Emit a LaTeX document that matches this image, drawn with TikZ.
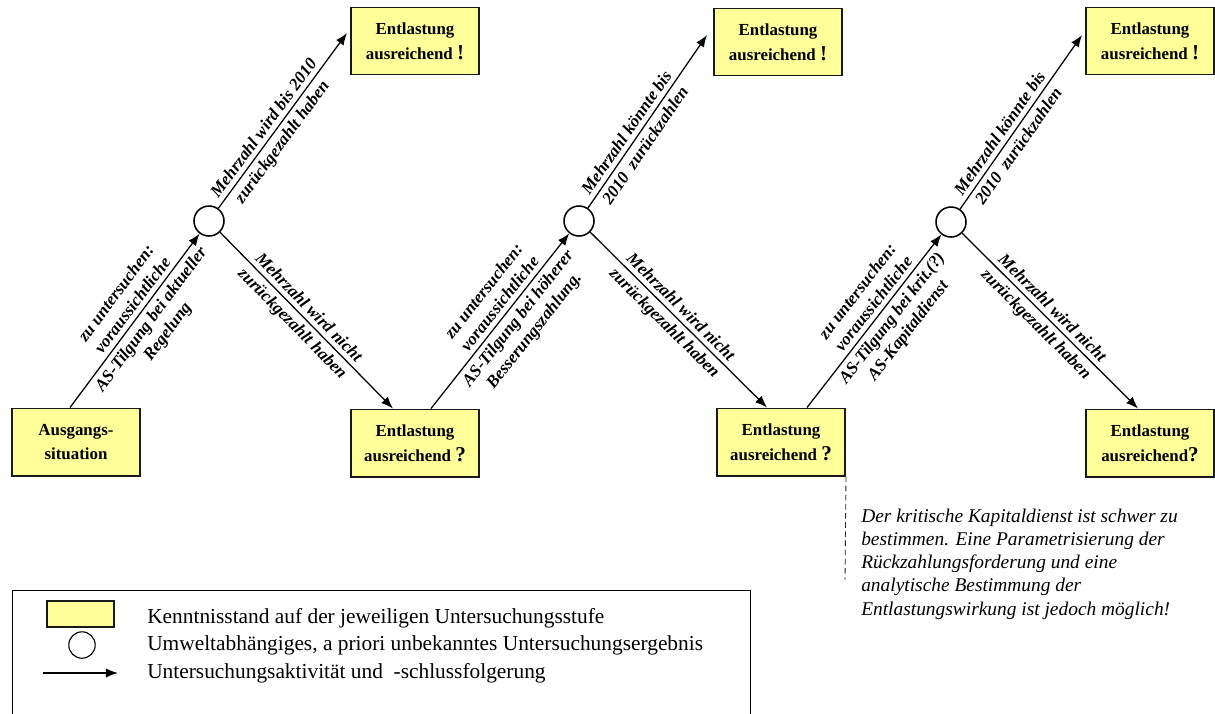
\documentclass[tikz,border=0pt]{standalone}
\usepackage{fontspec}
\setmainfont{Liberation Serif}
\usetikzlibrary{arrows.meta, positioning, calc}
\definecolor{boxgelb}{HTML}{FFFF99}
\newcommand{\zeichen}[1]{{\fontsize{15}{15}\selectfont #1}}

\begin{document}
\begin{tikzpicture}[x=0.025cm, y=-0.025cm, >={Latex[length=3mm,width=2.3mm]},
    stand/.style={draw=black!90, line width=1.4pt, fill=boxgelb, minimum width=3.2cm, minimum height=1.675cm, inner sep=0pt, align=center, font=\fontsize{12}{17.5}\selectfont\bfseries},
    ergebnis/.style={circle, draw, line width=1.1pt, minimum size=0.75cm, inner sep=0pt},
    pfeil/.style={->, line width=0.9pt},
    lbl/.style={sloped, align=center, font=\fontsize{12.2}{14.5}\selectfont\bfseries\itshape}]
    \useasboundingbox (0,0) rectangle (1215,713);

    \node[stand] (start) at (76,442) {Ausgangs-\\situation};
    \node[stand] (ok1) at (415,41) {Entlastung\\ausreichend \zeichen{!}};
    \node[stand] (st1) at (415,443) {Entlastung\\ausreichend \zeichen{?}};
    \node[stand] (ok2) at (778,42) {Entlastung\\ausreichend \zeichen{!}};
    \node[stand] (st2) at (781,442) {Entlastung\\ausreichend \zeichen{?}};
    \node[stand] (ok3) at (1150,41) {Entlastung\\ausreichend \zeichen{!}};
    \node[stand] (st3) at (1150,443) {Entlastung\\ausreichend\zeichen{?}};

    \node[ergebnis] (c1) at (209,221) {};
    \node[ergebnis] (c2) at (579,221) {};
    \node[ergebnis] (c3) at (951,222) {};

    \draw[pfeil] ($(start.north)+(-6,0)$) -- (c1)
        node[lbl, pos=0.55, above] {zu untersuchen:\\voraussichtliche}
        node[lbl, pos=0.55, below] {AS-Tilgung bei aktueller\\Regelung};
    \draw[pfeil] (c1) -- ($(ok1.west)+(-3,-8)$)
        node[lbl, pos=0.42, above] {Mehrzahl wird bis 2010}
        node[lbl, pos=0.42, below] {zurückgezahlt haben};
    \draw[pfeil] (c1) -- ($(st1.north)+(-22,0)$)
        node[lbl, pos=0.47, above] {Mehrzahl wird nicht}
        node[lbl, pos=0.47, below] {zurückgezahlt haben};

    \draw[pfeil] ($(st1.north)+(16,0)$) -- (c2)
        node[lbl, pos=0.56, above] {zu untersuchen:\\voraussichtliche}
        node[lbl, pos=0.56, below] {AS-Tilgung bei höherer\\Besserungszahlung.};
    \draw[pfeil] (c2) -- ($(ok2.west)+(-6,-7)$)
        node[lbl, pos=0.4, above] {Mehrzahl könnte bis}
        node[lbl, pos=0.4, below] {2010\ \ zurückzahlen};
    \draw[pfeil] (c2) -- ($(st2.north)+(-14,0)$)
        node[lbl, pos=0.47, above] {Mehrzahl wird nicht}
        node[lbl, pos=0.47, below] {zurückgezahlt haben};

    \draw[pfeil] ($(st2.north)+(26,0)$) -- (c3)
        node[lbl, pos=0.56, above] {zu untersuchen:\\voraussichtliche}
        node[lbl, pos=0.56, below] {AS-Tilgung bei krit.(?)\\AS-Kapitaldienst};
    \draw[pfeil] (c3) -- ($(ok3.west)+(-3,-6)$)
        node[lbl, pos=0.4, above] {Mehrzahl könnte bis}
        node[lbl, pos=0.4, below] {2010\ \ zurückzahlen};
    \draw[pfeil] (c3) -- ($(st3.north)+(-12,0)$)
        node[lbl, pos=0.47, above] {Mehrzahl wird nicht}
        node[lbl, pos=0.47, below] {zurückgezahlt haben};

    \coordinate (notizende) at (845,580);
    \draw[black!85, line width=0.6pt, dash pattern=on 4pt off 2.5pt] (st2.south east) -- (notizende);
    \node[anchor=north west, align=left, inner sep=0pt, font=\fontsize{13.8}{16.4}\selectfont\itshape] (notiz) at (861,509)
        {Der kritische Kapitaldienst ist schwer zu\\bestimmen. Eine Parametrisierung der\\Rückzahlungsforderung und eine\\analytische Bestimmung der\\Entlastungswirkung ist jedoch möglich!};

    \draw[line width=0.6pt] (12,730) -- (12,590) -- (750,590) -- (750,730);
    \node[draw=black!90, line width=0.9pt, fill=boxgelb, minimum width=1.675cm, minimum height=0.65cm, inner sep=0pt] (lgstand) at (80.5,614) {};
    \node[ergebnis, minimum size=0.66cm, line width=0.8pt] (lgkreis) at (82,645) {};
    \coordinate (lgvon) at (43,673);
    \coordinate (lgbis) at (118,673);
    \draw[pfeil] (lgvon) -- (lgbis);
    \node[anchor=west, inner sep=0pt, font=\fontsize{15.2}{15.2}\selectfont] (lgt1) at (147,618) {Kenntnisstand auf der jeweiligen Untersuchungsstufe};
    \node[anchor=west, inner sep=0pt, font=\fontsize{15.2}{15.2}\selectfont] (lgt2) at (147,645) {Umweltabhängiges, a priori unbekanntes Untersuchungsergebnis};
    \node[anchor=west, inner sep=0pt, font=\fontsize{15.2}{15.2}\selectfont] (lgt3) at (147,673) {Untersuchungsaktivität und\ \ -schlussfolgerung};
\end{tikzpicture}
\end{document}
